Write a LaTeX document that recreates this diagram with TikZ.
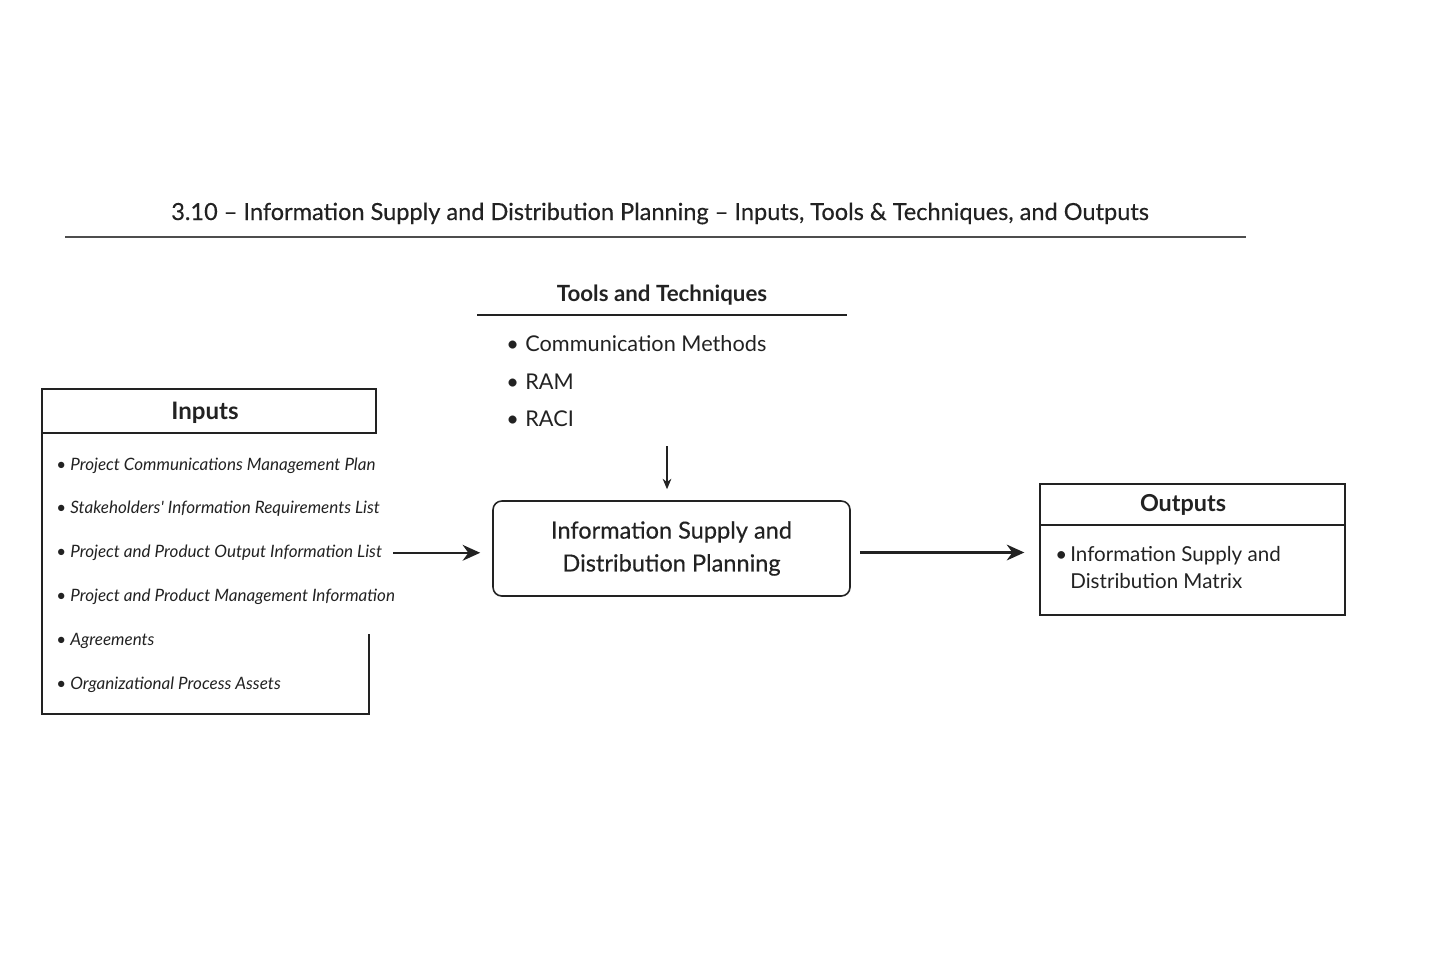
\documentclass[tikz,border=0pt]{standalone}
\usepackage{fontspec}
\setmainfont{Lato}
\newfontfamily\latomed[FakeBold=0.35,Ligatures=TeX]{Lato}
\usetikzlibrary{arrows.meta,positioning}
\definecolor{ink}{HTML}{222222}

\begin{document}
\begin{tikzpicture}[
  every node/.style={text=ink, inner sep=0pt},
  item/.style={anchor=base west, font=\fontsize{9.7}{12}\selectfont\itshape},
  tool/.style={anchor=base west, font=\fontsize{12.35}{14}\selectfont},
  frame/.style={draw=ink, line width=0.8pt},
  flow/.style={draw=ink, line width=1.3pt, -{Stealth[length=10pt,width=9pt]}},
]
\useasboundingbox (0,0) rectangle (28.64,-19.1);

% title
\node[anchor=base, font=\fontsize{13.4}{15}\latomed] (title) at (13.2,-4.4)
  {3.10 \textendash\ Information Supply and Distribution Planning \textendash\ Inputs, Tools \& Techniques, and Outputs};
\draw[ink!80, line width=0.6pt] (1.3,-4.74) -- (24.92,-4.74);

% tools and techniques
\node[anchor=base, font=\fontsize{12.7}{14}\selectfont\bfseries] (tools) at (13.24,-6.03) {Tools and Techniques};
\draw[frame] (9.54,-6.3) -- (16.94,-6.3);
\node[tool] (t1) at (10.12,-7.03) {\makebox[0.38cm][l]{\textbullet}Communication Methods};
\node[tool] (t2) at (10.12,-7.78) {\makebox[0.38cm][l]{\textbullet}RAM};
\node[tool] (t3) at (10.12,-8.53) {\makebox[0.38cm][l]{\textbullet}RACI};
\coordinate (tdown) at (13.34,-8.92);

% process box
\node[draw=ink, line width=0.9pt, rounded corners=5pt, minimum width=7.14cm, minimum height=1.9cm,
  align=center, font=\fontsize{13.4}{18.7}\latomed] (plan) at (13.43,-10.97)
  {Information Supply and\\Distribution Planning};
\draw[ink, line width=0.6pt, -{Stealth[length=6pt,width=5pt]}, shorten >=0.22cm] (tdown) -- (tdown |- plan.north);

% inputs
\draw[frame] (0.84,-7.78) rectangle (7.52,-8.66);
\node[anchor=base, font=\fontsize{13.7}{15}\selectfont\bfseries] (inputs) at (4.1,-8.38) {Inputs};
\node[item] (in1) at (1.12,-9.4) {\makebox[0.28cm][l]{\upshape\textbullet}Project Communications Management Plan};
\node[item] (in2) at (1.12,-10.27) {\makebox[0.28cm][l]{\upshape\textbullet}Stakeholders\textquotesingle\ Information Requirements List};
\node[item] (in3) at (1.12,-11.15) {\makebox[0.28cm][l]{\upshape\textbullet}Project and Product Output Information List};
\node[item] (in4) at (1.12,-12.03) {\makebox[0.28cm][l]{\upshape\textbullet}Project and Product Management Information};
\node[item] (in5) at (1.12,-12.91) {\makebox[0.28cm][l]{\upshape\textbullet}Agreements};
\node[item] (in6) at (1.12,-13.79) {\makebox[0.28cm][l]{\upshape\textbullet}Organizational Process Assets};
\draw[frame] (7.38,-12.68) -- (7.38,-14.28) -- (0.84,-14.28) -- (0.84,-8.66);

% outputs
\node[frame, minimum width=6.1cm, minimum height=2.62cm] (outbox) at (23.85,-10.99) {};
\draw[frame] (outbox.west |- 0,-10.5) -- (outbox.east |- 0,-10.5);
\node[anchor=base, font=\fontsize{13.3}{15}\selectfont\bfseries] (outputs) at (23.66,-10.23) {Outputs};
\node[anchor=base west, font=\fontsize{11.7}{13}\selectfont] (out1) at (21.1,-11.23) {\makebox[0.3cm][l]{\textbullet}Information Supply and};
\node[anchor=base west, font=\fontsize{11.7}{13}\selectfont] (out2) at (21.4,-11.77) {Distribution Matrix};

% arrows
\draw[flow, shorten >=0.24cm] ([xshift=0.22cm]in3.east) -- (plan.west |- in3.east);
\draw[flow, shorten <=0.18cm, shorten >=0.3cm] ([yshift=-0.08cm]plan.east) -- ([yshift=-0.08cm]plan.east -| outbox.west);
\end{tikzpicture}
\end{document}
